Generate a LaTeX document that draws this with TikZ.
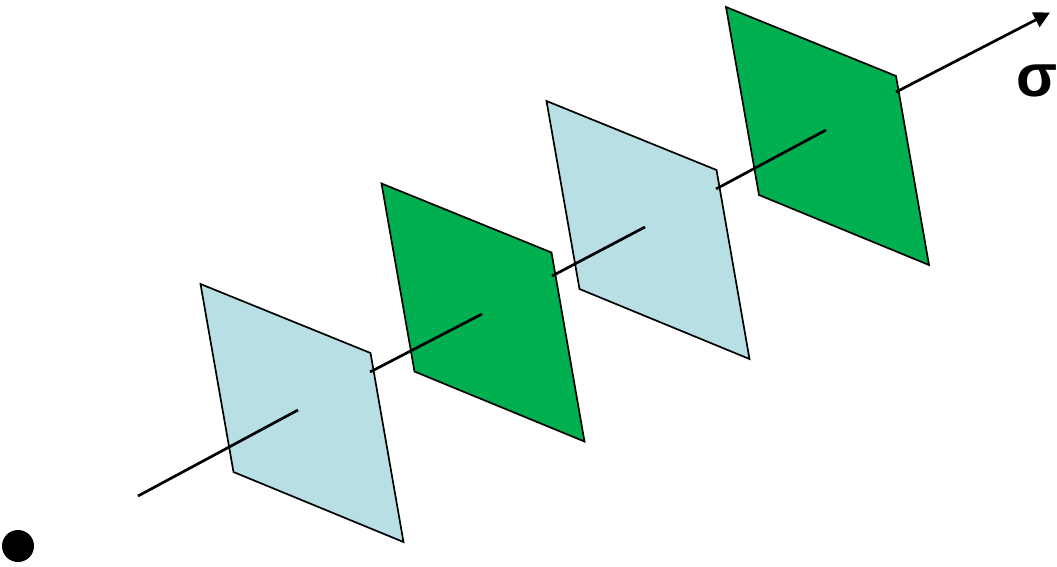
\documentclass[tikz,border=0pt]{standalone}
\usepackage{fontspec}
\setmainfont{Liberation Sans}
\usetikzlibrary{arrows.meta}
\definecolor{paleblue}{RGB}{184,223,228}
\definecolor{planegreen}{RGB}{0,175,80}
\tikzset{
  x=1pt,y=-1pt,
  plane/.style={draw=black,line width=1.7pt,line join=miter},
  axis/.style={draw=black,line width=2.7pt},
}
\begin{document}
\begin{tikzpicture}
\useasboundingbox (0,0) rectangle (1057,566);
% planes
\foreach \ox/\oy/\c in {200.5/284/paleblue,381.5/183.5/planegreen,546.5/101/paleblue,726/7/planegreen}{
  \filldraw[plane,fill=\c] (\ox,\oy) -- ++(170,69) -- ++(33,189) -- ++(-170,-70) -- cycle;
}
% named axis points
\coordinate (a0) at (138,496);
\coordinate (a1) at (298,410);
\coordinate (b0) at (370,372);
\coordinate (b1) at (482,314);
\coordinate (c0) at (552,276);
\coordinate (c1) at (645,227);
\coordinate (d0) at (716,189);
\coordinate (d1) at (826,130);
\coordinate (e0) at (896,92);
\coordinate (e1) at (1050,12.5);
\draw[axis] (a0) -- (a1);
\draw[axis] (b0) -- (b1);
\draw[axis] (c0) -- (c1);
\draw[axis] (d0) -- (d1);
\draw[axis,-{Triangle[length=16pt,width=16pt]}] (e0) -- (e1);
\node[circle,fill=black,inner sep=0pt,minimum size=32pt] (dot) at (18,546) {};
\node[font=\fontsize{60}{60}\selectfont\bfseries,inner sep=0pt] (sigma) at (1037.5,81) {σ};
\end{tikzpicture}
\end{document}
